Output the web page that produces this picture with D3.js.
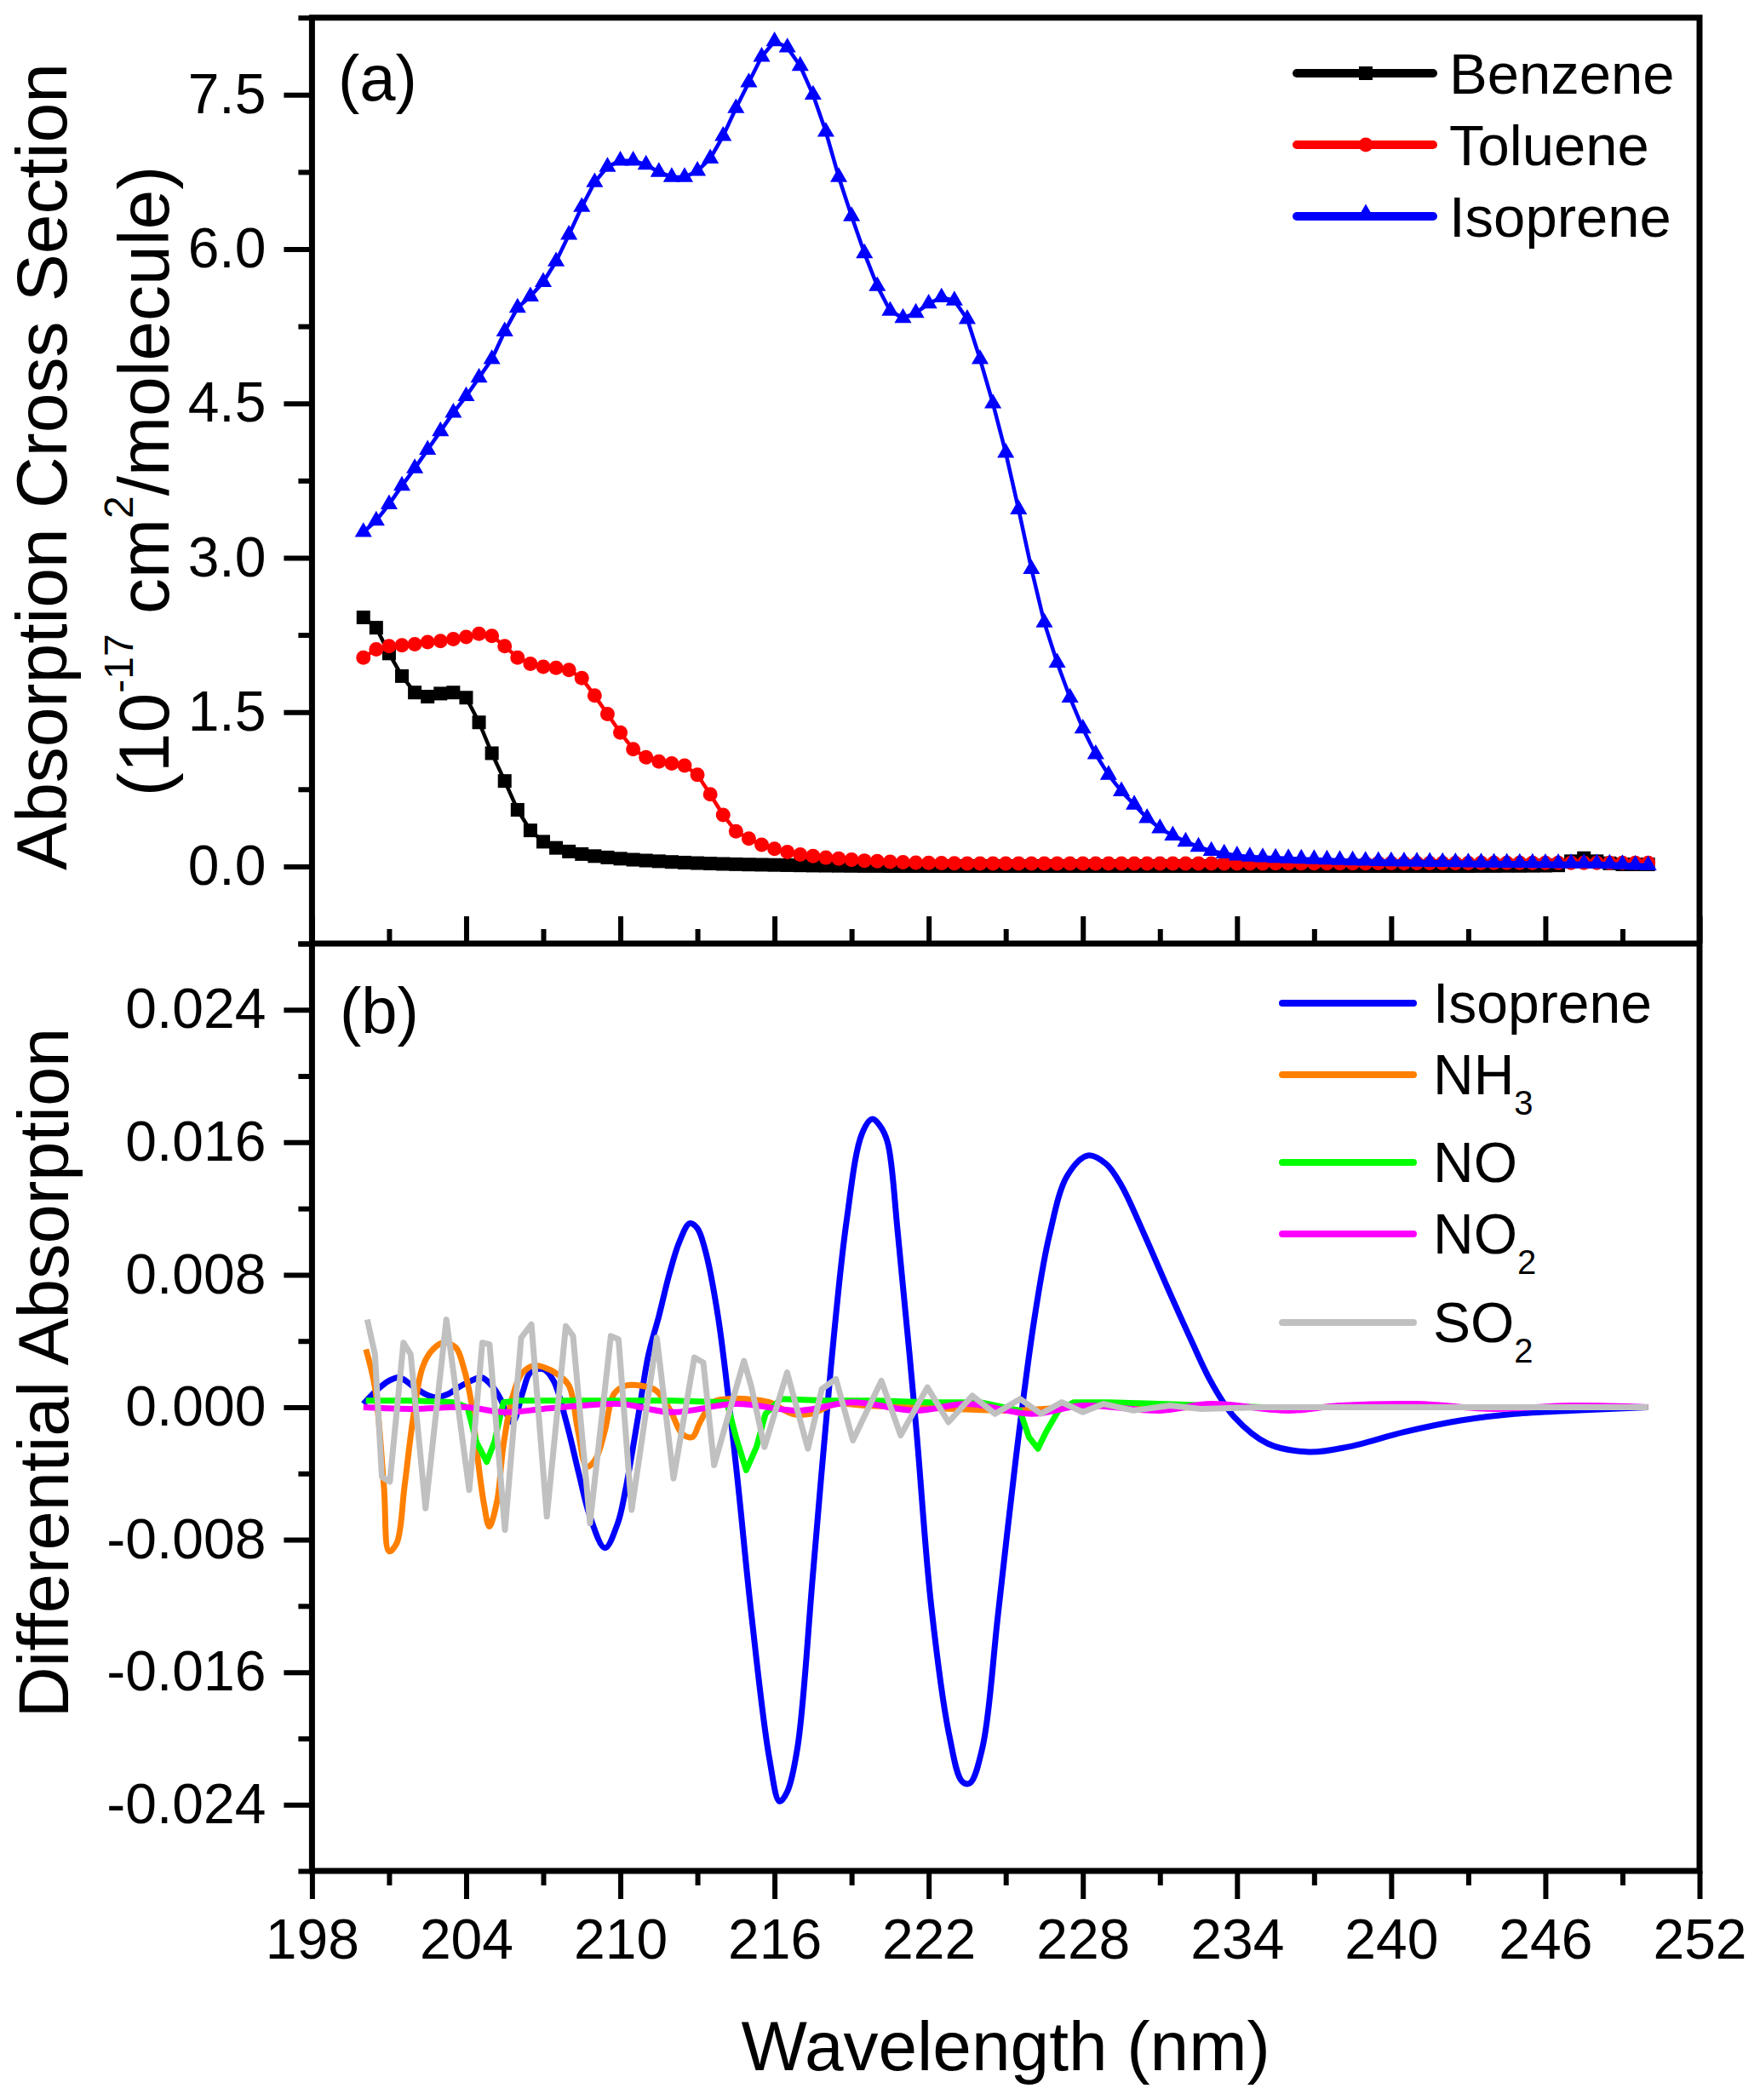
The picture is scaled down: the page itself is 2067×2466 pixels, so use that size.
<!DOCTYPE html>
<html>
<head>
<meta charset="utf-8">
<script src="https://cdn.jsdelivr.net/npm/d3@7"></script>
<style>
  body { margin: 0; background: #fff; }
  text { font-family: 'Liberation Sans', Arial, sans-serif; fill: #000; }
</style>
</head>
<body>
<div id="chart"></div>
<script>
// ---- panel (a): absorption cross sections, 10^-17 cm2/molecule, 200-250 nm every 0.5 nm
let wavelengthA = [
  200, 200.5, 201, 201.5, 202, 202.5, 203, 203.5, 204, 204.5,
  205, 205.5, 206, 206.5, 207, 207.5, 208, 208.5, 209, 209.5,
  210, 210.5, 211, 211.5, 212, 212.5, 213, 213.5, 214, 214.5,
  215, 215.5, 216, 216.5, 217, 217.5, 218, 218.5, 219, 219.5,
  220, 220.5, 221, 221.5, 222, 222.5, 223, 223.5, 224, 224.5,
  225, 225.5, 226, 226.5, 227, 227.5, 228, 228.5, 229, 229.5,
  230, 230.5, 231, 231.5, 232, 232.5, 233, 233.5, 234, 234.5,
  235, 235.5, 236, 236.5, 237, 237.5, 238, 238.5, 239, 239.5,
  240, 240.5, 241, 241.5, 242, 242.5, 243, 243.5, 244, 244.5,
  245, 245.5, 246, 246.5, 247, 247.5, 248, 248.5, 249, 249.5,
  250
]

let benzene = [
  2.42, 2.32, 2.07, 1.85, 1.69, 1.65, 1.68, 1.69, 1.64, 1.40,
  1.10, 0.83, 0.55, 0.35, 0.24, 0.18, 0.145, 0.12, 0.10, 0.087,
  0.075, 0.065, 0.057, 0.05, 0.043, 0.037, 0.032, 0.028, 0.024, 0.021,
  0.018, 0.016, 0.014, 0.012, 0.010, 0.008, 0.007, 0.006, 0.005, 0.004,
  0.004, 0.003, 0.003, 0.003, 0.003, 0.003, 0.003, 0.003, 0.003, 0.003,
  0.003, 0.003, 0.003, 0.003, 0.003, 0.003, 0.003, 0.003, 0.003, 0.003,
  0.003, 0.003, 0.003, 0.003, 0.003, 0.003, 0.003, 0.003, 0.003, 0.003,
  0.003, 0.003, 0.003, 0.003, 0.003, 0.003, 0.003, 0.003, 0.003, 0.003,
  0.003, 0.003, 0.003, 0.003, 0.003, 0.003, 0.003, 0.004, 0.004, 0.005,
  0.005, 0.006, 0.007, 0.01, 0.05, 0.08, 0.05, 0.03, 0.02, 0.02,
  0.02
]

let toluene = [
  2.03, 2.11, 2.14, 2.15, 2.16, 2.18, 2.19, 2.21, 2.23, 2.26,
  2.24, 2.14, 2.03, 1.97, 1.94, 1.93, 1.91, 1.83, 1.66, 1.48,
  1.30, 1.14, 1.06, 1.02, 1.00, 0.98, 0.89, 0.70, 0.50, 0.34,
  0.27, 0.21, 0.17, 0.14, 0.115, 0.10, 0.085, 0.075, 0.065, 0.056,
  0.05, 0.045, 0.04, 0.037, 0.034, 0.032, 0.03, 0.029, 0.028, 0.028,
  0.028, 0.028, 0.028, 0.028, 0.028, 0.028, 0.028, 0.028, 0.028, 0.028,
  0.028, 0.028, 0.028, 0.028, 0.028, 0.028, 0.028, 0.029, 0.029, 0.029,
  0.029, 0.03, 0.03, 0.03, 0.03, 0.031, 0.031, 0.031, 0.031, 0.032,
  0.032, 0.032, 0.032, 0.033, 0.033, 0.033, 0.033, 0.034, 0.034, 0.034,
  0.034, 0.035, 0.035, 0.035, 0.035, 0.035, 0.035, 0.035, 0.035, 0.035,
  0.035
]

let isopreneA = [
  3.25, 3.36, 3.52, 3.70, 3.87, 4.05, 4.23, 4.41, 4.57, 4.75,
  4.93, 5.20, 5.43, 5.54, 5.68, 5.88, 6.14, 6.41, 6.65, 6.80,
  6.86, 6.86, 6.82, 6.75, 6.70, 6.70, 6.76, 6.88, 7.10, 7.37,
  7.62, 7.87, 8.02, 7.96, 7.78, 7.50, 7.14, 6.70, 6.32, 5.96,
  5.64, 5.40, 5.33, 5.38, 5.47, 5.53, 5.50, 5.32, 4.93, 4.50,
  4.02, 3.47, 2.89, 2.37, 1.98, 1.64, 1.34, 1.09, 0.89, 0.73,
  0.60, 0.47, 0.37, 0.30, 0.24, 0.19, 0.15, 0.125, 0.105, 0.095,
  0.088, 0.083, 0.078, 0.074, 0.07, 0.066, 0.062, 0.058, 0.055, 0.052,
  0.05, 0.048, 0.046, 0.044, 0.042, 0.04, 0.038, 0.037, 0.036, 0.035,
  0.034, 0.033, 0.032, 0.031, 0.03, 0.03, 0.028, 0.025, 0.02, 0.015,
  0.01
]

// ---- panel (b): differential absorption
let isopreneBWl = [
  200.0, 200.5, 201.0, 201.4, 201.9, 202.4, 202.8, 203.3, 203.7, 204.2,
  204.6, 205.0, 205.3, 205.8, 206.2, 206.5, 207.0, 207.4, 207.9, 208.4,
  208.8, 209.4, 209.9, 210.2, 210.7, 211.1, 211.5, 211.9, 212.3, 212.7,
  213.0, 213.3, 213.8, 214.5, 215.1, 215.8, 216.2, 216.5, 216.9, 217.5,
  218.2, 218.8, 219.4, 219.8, 220.1, 220.4, 220.8, 221.5, 222.1, 222.8,
  223.3, 223.6, 224.1, 224.7, 225.4, 226.1, 226.7, 227.4, 228.2, 228.9,
  229.5, 230.4, 231.3, 232.2, 233.0, 233.9, 235.2, 236.8, 238.3, 240.5,
  242.7, 244.8, 247.0, 250.0
]
let isopreneB = [
  0.0002, 0.0010, 0.0016, 0.0018, 0.0013, 0.0008, 0.0006, 0.0008, 0.0012, 0.0016,
  0.0018, 0.0013, 0.0006, -0.0009, 0.0009, 0.0021, 0.0023, 0.0016, -0.0009, -0.0041,
  -0.0065, -0.0085, -0.0070, -0.0050, -0.0005, 0.0032, 0.0055, 0.0080, 0.0100, 0.0111,
  0.0108, 0.0095, 0.0055, -0.0035, -0.0125, -0.0212, -0.0238, -0.0232, -0.0205, -0.0100,
  0.0025, 0.0112, 0.0165, 0.0174, 0.0170, 0.0160, 0.0105, -0.0010, -0.0120, -0.0198,
  -0.0226, -0.0227, -0.0205, -0.0125, -0.0030, 0.0052, 0.0104, 0.0140, 0.0152, 0.0147,
  0.0134, 0.0104, 0.0072, 0.0041, 0.0015, -0.0006, -0.0022, -0.0027, -0.0024, -0.0015,
  -0.0008, -0.0004, -0.0002, 0.0
]

let nh3Wl = [
  200.1, 200.45, 200.8, 201.0, 201.3, 201.6, 201.95, 202.3, 202.65, 203.1,
  203.6, 203.9, 204.2, 204.45, 204.7, 204.9, 205.2, 205.45, 205.8, 206.15,
  206.6, 207.05, 207.55, 208.0, 208.35, 208.7, 209.05, 209.4, 209.75, 210.2,
  210.8, 211.4, 211.95, 212.4, 212.8, 213.1, 213.6, 214.2, 214.9, 215.8,
  216.7, 217.4, 218.4, 219.5, 221, 223, 225, 226.5, 228, 231,
  235, 240, 245, 250
]
let nh3 = [
  0.0035, 0.0012, -0.0048, -0.0087, -0.0082, -0.0048, -0.0005, 0.0024, 0.0034, 0.0039,
  0.0036, 0.0024, 0.0003, -0.0031, -0.0059, -0.0072, -0.0057, -0.0023, 0.0006, 0.0020,
  0.0025, 0.0024, 0.0020, 0.0013, -0.0014, -0.0036, -0.0031, -0.0014, 0.0008, 0.0013,
  0.0013, 0.0010, -0.0002, -0.0016, -0.0018, -0.0009, 0.0003, 0.0005, 0.0005, 0.0003,
  -0.0004, -0.0004, 0.0002, 0.0001, 0.0, -0.0001, -0.0002, -0.0001, 0.0001, 0.0,
  0.0, 0.0, 0.0, 0.0
]

let noWl = [
  200.1, 202, 203.5, 204.05, 204.4, 204.8, 205.1, 205.45, 206, 208,
  210, 212, 214.15, 214.5, 214.9, 215.3, 215.65, 216.25, 218, 220,
  222, 224, 225.55, 225.9, 226.25, 226.6, 227.05, 227.65, 229, 231,
  233, 235, 240, 245, 250
]
let no = [
  0.0004, 0.0004, 0.0003, 0.0, -0.0021, -0.0033, -0.0021, 0.0003, 0.0004, 0.0004,
  0.0004, 0.0004, 0.0003, -0.0018, -0.0038, -0.0024, -0.0004, 0.0005, 0.0004, 0.0004,
  0.0003, 0.0003, -0.0002, -0.0018, -0.0025, -0.0014, -0.0002, 0.0003, 0.0003, 0.0002,
  0.0001, 0.0, 0.0, 0.0, 0.0
]

let no2Wl = [
  200, 202, 204, 205.5, 207, 208.5, 210, 212, 214.5, 217,
  219, 221.5, 223.5, 226, 228, 231, 233, 236, 238, 241,
  244, 247, 250
]
let no2 = [
  0.0, -0.0001, 0.0, -0.0003, -0.0001, 0.0001, 0.0002, -0.0003, 0.0002, -0.0002,
  0.0003, -0.0002, 0.0002, -0.0004, 0.0001, -0.0002, 0.0002, -0.0002, 0.0001, 0.0002,
  -0.0001, 0.0001, 0.0
]

let so2Wl = [
  200.15, 200.45, 200.72, 201.03, 201.56, 201.84, 202.42, 203.23, 204.12, 204.63,
  204.91, 205.51, 206.14, 206.54, 207.14, 207.88, 208.16, 208.82, 209.63, 209.93,
  210.44, 211.42, 212.07, 212.88, 213.23, 213.65, 214.81, 215.09, 215.61, 216.49,
  217.3, 217.84, 218.39, 219.05, 220.16, 220.91, 221.95, 222.77, 223.7, 224.58,
  225.56, 226.37, 227.18, 228.0, 228.81, 229.97, 231.4, 232.6, 235, 240,
  245, 250
]
let so2 = [
  0.0053, 0.0032, -0.0042, -0.0045, 0.0039, 0.0032, -0.0061, 0.0053, -0.0050, 0.0039,
  0.0038, -0.0074, 0.0042, 0.0050, -0.0066, 0.0049, 0.0043, -0.0070, 0.0043, 0.0041,
  -0.0062, 0.0042, -0.0043, 0.0030, 0.0027, -0.0035, 0.0028, 0.0013, -0.0024, 0.0021,
  -0.0025, 0.0011, 0.0017, -0.0020, 0.0016, -0.0017, 0.0012, -0.0009, 0.0007, -0.0004,
  0.0005, -0.0004, 0.0003, -0.0003, 0.0002, -0.0002, 0.0001, -0.0001, 0.0, 0.0,
  0.0, 0.0
]

// ---- ticks
let xTicks = [198, 204, 210, 216, 222, 228, 234, 240, 246, 252]
let xMinor = [201, 207, 213, 219, 225, 231, 237, 243, 249]
let aTicks = [0, 1.5, 3, 4.5, 6, 7.5]
let aMinor = [-0.75, 0.75, 2.25, 3.75, 5.25, 6.75, 8.25]
let bTicks = [-0.024, -0.016, -0.008, 0, 0.008, 0.016, 0.024]
let bMinor = [-0.028, -0.02, -0.012, -0.004, 0.004, 0.012, 0.02, 0.028]

let seriesA = [
  { name: 'Benzene', values: benzene, color: '#000000', shape: 'square' },
  { name: 'Toluene', values: toluene, color: '#ff0000', shape: 'circle' },
  { name: 'Isoprene', values: isopreneA, color: '#0000ff', shape: 'triangle' }
]
let seriesB = [
  { name: 'Isoprene', sub: '', wl: isopreneBWl, values: isopreneB, color: '#0000ff', smooth: true },
  { name: 'NH', sub: '3', wl: nh3Wl, values: nh3, color: '#ff8000', smooth: true },
  { name: 'NO', sub: '', wl: noWl, values: no, color: '#00ff00', smooth: false },
  { name: 'NO', sub: '2', wl: no2Wl, values: no2, color: '#ff00ff', smooth: true },
  { name: 'SO', sub: '2', wl: so2Wl, values: so2, color: '#c0c0c0', smooth: false }
]

let width = 2067
let height = 2466
let left = 366.4
let right = 1996
let topA = 20.7
let mid = 1108
let bottomB = 2197

let svg = d3
  .select('#chart')
  .append('svg')
  .attr('width', width)
  .attr('height', height)

let x = d3.scaleLinear().domain([198, 252]).range([left, right])
let yA = d3.scaleLinear().domain([-0.75, 8.25]).range([mid, topA])
let yB = d3.scaleLinear().domain([-0.028, 0.028]).range([bottomB, mid])

function styleAxis(g, size) {
  g.select('.domain').remove()
  g.selectAll('line').attr('stroke', 'black').attr('stroke-width', 6)
  g.selectAll('text').attr('font-size', size).attr('fill', 'black')
    .attr('font-family', "'Liberation Sans', Arial, sans-serif")
}

// ---- y axes
svg.append('g')
  .attr('transform', `translate(${left},0)`)
  .call(d3.axisLeft(yA).tickValues(aTicks).tickSize(33).tickPadding(21)
    .tickFormat(d => d.toFixed(1)))
  .call(g => styleAxis(g, 66))
svg.append('g')
  .attr('transform', `translate(${left},0)`)
  .call(d3.axisLeft(yA).tickValues(aMinor).tickSize(16).tickFormat(''))
  .call(g => styleAxis(g, 66))

svg.append('g')
  .attr('transform', `translate(${left},0)`)
  .call(d3.axisLeft(yB).tickValues(bTicks).tickSize(33).tickPadding(21)
    .tickFormat(d => d.toFixed(3)))
  .call(g => styleAxis(g, 66))
svg.append('g')
  .attr('transform', `translate(${left},0)`)
  .call(d3.axisLeft(yB).tickValues(bMinor).tickSize(16).tickFormat(''))
  .call(g => styleAxis(g, 66))

// ---- x axes: inward ticks under panel (a), outward labelled axis under panel (b)
svg.append('g')
  .attr('transform', `translate(0,${mid})`)
  .call(d3.axisTop(x).tickValues(xTicks).tickSize(32).tickFormat(''))
  .call(g => styleAxis(g, 66))
svg.append('g')
  .attr('transform', `translate(0,${mid})`)
  .call(d3.axisTop(x).tickValues(xMinor).tickSize(17).tickFormat(''))
  .call(g => styleAxis(g, 66))

svg.append('g')
  .attr('transform', `translate(0,${bottomB})`)
  .call(d3.axisBottom(x).tickValues(xTicks).tickSize(33).tickPadding(23)
    .tickFormat(d3.format('d')))
  .call(g => styleAxis(g, 66))
svg.append('g')
  .attr('transform', `translate(0,${bottomB})`)
  .call(d3.axisBottom(x).tickValues(xMinor).tickSize(17).tickFormat(''))
  .call(g => styleAxis(g, 66))

// ---- panel (a) curves
let lineA = d3.line().x((d, i) => x(wavelengthA[i])).y(d => yA(d))

seriesA.forEach(s => {
  let g = svg.append('g').attr('class', 'series-a')
  g.append('path')
    .datum(s.values)
    .attr('d', lineA)
    .attr('fill', 'none')
    .attr('stroke', s.color)
    .attr('stroke-width', 4.5)
    .attr('stroke-linejoin', 'round')

  let pts = g.selectAll('.pt')
    .data(s.values)
    .enter()
  if (s.shape === 'square') {
    pts.append('rect')
      .attr('x', (d, i) => x(wavelengthA[i]) - 8)
      .attr('y', d => yA(d) - 8)
      .attr('width', 16)
      .attr('height', 16)
      .attr('fill', s.color)
  } else if (s.shape === 'circle') {
    pts.append('circle')
      .attr('cx', (d, i) => x(wavelengthA[i]))
      .attr('cy', d => yA(d))
      .attr('r', 8.5)
      .attr('fill', s.color)
  } else {
    pts.append('path')
      .attr('d', d3.symbol(d3.symbolTriangle, 175))
      .attr('transform', (d, i) => `translate(${x(wavelengthA[i])},${yA(d)})`)
      .attr('fill', s.color)
  }
})

// ---- panel (b) curves
seriesB.forEach(s => {
  let lineB = d3.line()
    .x((d, i) => x(s.wl[i]))
    .y(d => yB(d))
    .curve(s.smooth ? d3.curveCatmullRom.alpha(0.5) : d3.curveLinear)
  svg.append('path')
    .datum(s.values)
    .attr('d', lineB)
    .attr('fill', 'none')
    .attr('stroke', s.color)
    .attr('stroke-width', 7)
    .attr('stroke-linejoin', 'round')
})

// ---- frame
svg.append('path')
  .attr('d', `M${left},${topA}H${right}V${bottomB}H${left}Z M${left},${mid}H${right}`)
  .attr('fill', 'none')
  .attr('stroke', 'black')
  .attr('stroke-width', 7)
  .attr('stroke-linecap', 'square')

// ---- panel labels
svg.append('text').attr('x', 397).attr('y', 118).attr('font-size', 76).text('(a)')
svg.append('text').attr('x', 399).attr('y', 1213).attr('font-size', 76).text('(b)')

// ---- legend (a)
seriesA.forEach((s, i) => {
  let ly = 86 + i * 84
  svg.append('line')
    .attr('x1', 1523).attr('x2', 1683).attr('y1', ly).attr('y2', ly)
    .attr('stroke', s.color).attr('stroke-width', 10).attr('stroke-linecap', 'round')
  if (s.shape === 'square') {
    svg.append('rect').attr('x', 1596).attr('y', ly - 8).attr('width', 16).attr('height', 16)
      .attr('fill', s.color)
  } else if (s.shape === 'circle') {
    svg.append('circle').attr('cx', 1604).attr('cy', ly).attr('r', 8.5).attr('fill', s.color)
  } else {
    svg.append('path').attr('d', d3.symbol(d3.symbolTriangle, 175))
      .attr('transform', `translate(1604,${ly - 3})`).attr('fill', s.color)
  }
  svg.append('text').attr('x', 1702).attr('y', ly + 24).attr('font-size', 67).text(s.name)
})

// ---- legend (b)
let legendBRows = [1178, 1262, 1365, 1449, 1553]
seriesB.forEach((s, i) => {
  let ly = legendBRows[i]
  svg.append('line')
    .attr('x1', 1506).attr('x2', 1660).attr('y1', ly).attr('y2', ly)
    .attr('stroke', s.color).attr('stroke-width', 8).attr('stroke-linecap', 'round')
  let t = svg.append('text').attr('x', 1683).attr('y', ly + 23).attr('font-size', 66)
  t.append('tspan').text(s.name)
  if (s.sub) {
    t.append('tspan').attr('font-size', 40).attr('dy', 24).text(s.sub)
  }
})

// ---- axis titles
svg.append('text')
  .attr('transform', 'translate(78,548) rotate(-90)')
  .attr('text-anchor', 'middle')
  .attr('font-size', 84)
  .text('Absorption Cross Section')

let unit = svg.append('text')
  .attr('transform', 'translate(198,565) rotate(-90)')
  .attr('text-anchor', 'middle')
  .attr('font-size', 84)
unit.append('tspan').text('(10')
unit.append('tspan').attr('font-size', 48).attr('dy', -42).text('-17')
unit.append('tspan').attr('dy', 42).text(' cm')
unit.append('tspan').attr('font-size', 48).attr('dy', -42).text('2')
unit.append('tspan').attr('dy', 42).text('/molecule)')

svg.append('text')
  .attr('transform', 'translate(80,1612) rotate(-90)')
  .attr('text-anchor', 'middle')
  .attr('font-size', 83)
  .text('Differential Absorption')

svg.append('text')
  .attr('x', (left + right) / 2)
  .attr('y', 2431)
  .attr('text-anchor', 'middle')
  .attr('font-size', 82)
  .text('Wavelength (nm)')
</script>
</body>
</html>
